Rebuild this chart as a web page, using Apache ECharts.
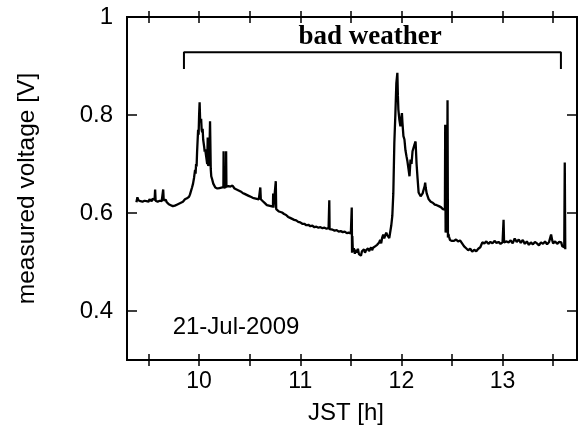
<!DOCTYPE html>
<html><head><meta charset="utf-8">
<script src="https://cdn.jsdelivr.net/npm/echarts@6/dist/echarts.min.js"></script>
<style>html,body{margin:0;padding:0;background:#fff}#c{width:578px;height:430px}</style>
</head><body><div id="c"></div>
<script>
// ---- data (hour JST, measured voltage V) ----
const morningTrace = [[9.38,0.622],[9.39,0.632],[9.40,0.626],[9.41,0.630],[9.42,0.624],[9.43,0.628],[9.44,0.623],[9.45,0.627],[9.46,0.625],[9.47,0.629],[9.48,0.624],[9.49,0.627],[9.50,0.623],[9.51,0.628],[9.52,0.626],[9.53,0.624],[9.54,0.629],[9.55,0.625],[9.56,0.627],[9.565,0.648],[9.57,0.625],[9.58,0.628],[9.59,0.623],[9.60,0.627],[9.61,0.625],[9.62,0.629],[9.63,0.624],[9.64,0.626],[9.645,0.648],[9.65,0.626],[9.66,0.624],[9.67,0.627],[9.68,0.622],[9.69,0.620],[9.70,0.618],[9.71,0.619],[9.72,0.616],[9.73,0.617],[9.74,0.614],[9.75,0.616],[9.76,0.615],[9.77,0.618],[9.78,0.617],[9.79,0.620],[9.80,0.619],[9.81,0.622],[9.82,0.621],[9.83,0.624],[9.84,0.623],[9.85,0.626],[9.86,0.628],[9.87,0.625],[9.88,0.630],[9.89,0.628],[9.90,0.633]];
const firstBurst = [[9.91,0.638],[9.92,0.645],[9.93,0.652],[9.94,0.660],[9.95,0.672],[9.96,0.688],[9.965,0.680],[9.97,0.700],[9.975,0.695],[9.98,0.725],[9.99,0.770],[9.995,0.760],[10.00,0.800],[10.005,0.826],[10.01,0.790],[10.015,0.785],[10.02,0.792],[10.025,0.770],[10.03,0.765],[10.035,0.772],[10.04,0.750],[10.05,0.735],[10.055,0.725],[10.06,0.730],[10.07,0.715],[10.08,0.700],[10.085,0.754],[10.09,0.696],[10.10,0.705],[10.108,0.787],[10.115,0.690],[10.12,0.675],[10.13,0.668],[10.14,0.660],[10.15,0.656],[10.16,0.652],[10.17,0.655],[10.18,0.650],[10.19,0.654],[10.20,0.651],[10.21,0.655],[10.22,0.652],[10.23,0.650],[10.24,0.653],[10.242,0.726],[10.245,0.652],[10.255,0.655],[10.265,0.653],[10.267,0.726],[10.27,0.654],[10.28,0.652]];
const slowDecline = [[10.29,0.655],[10.30,0.651],[10.31,0.654],[10.32,0.653],[10.33,0.656],[10.34,0.652],[10.35,0.650],[10.36,0.652],[10.37,0.648],[10.38,0.650],[10.39,0.646],[10.40,0.648],[10.41,0.644],[10.42,0.645],[10.43,0.641],[10.44,0.643],[10.45,0.639],[10.46,0.640],[10.47,0.637],[10.48,0.639],[10.49,0.635],[10.50,0.637],[10.51,0.633],[10.52,0.635],[10.53,0.631],[10.54,0.633],[10.55,0.630],[10.56,0.632],[10.57,0.629],[10.58,0.631],[10.59,0.628],[10.60,0.631],[10.605,0.652],[10.61,0.628],[10.62,0.626],[10.63,0.624],[10.64,0.622],[10.65,0.620],[10.66,0.618],[10.67,0.616],[10.68,0.614],[10.69,0.615],[10.70,0.612],[10.71,0.614],[10.72,0.611],[10.73,0.613],[10.732,0.640],[10.735,0.611],[10.74,0.610],[10.75,0.612],[10.758,0.665],[10.762,0.608],[10.77,0.606],[10.78,0.607],[10.79,0.603],[10.80,0.604],[10.82,0.601],[10.84,0.598],[10.86,0.596],[10.88,0.592],[10.90,0.590],[10.92,0.588],[10.94,0.586],[10.96,0.585],[10.98,0.582],[11.00,0.581],[11.02,0.578],[11.04,0.578],[11.06,0.575],[11.08,0.576],[11.10,0.573],[11.12,0.574],[11.14,0.571],[11.16,0.572],[11.18,0.570],[11.20,0.571],[11.22,0.569],[11.24,0.570],[11.26,0.568],[11.28,0.569],[11.287,0.626],[11.29,0.567],[11.30,0.568],[11.32,0.566],[11.34,0.564],[11.36,0.565],[11.38,0.562],[11.40,0.563],[11.42,0.561],[11.44,0.562],[11.46,0.559],[11.48,0.560],[11.50,0.558],[11.505,0.560]];
const secondBurst = [[11.509,0.611],[11.512,0.519],[11.515,0.553],[11.52,0.521],[11.53,0.528],[11.54,0.517],[11.55,0.525],[11.56,0.519],[11.57,0.527],[11.58,0.516],[11.59,0.520],[11.60,0.513],[11.61,0.522],[11.62,0.518],[11.63,0.526],[11.64,0.519],[11.65,0.524],[11.66,0.520],[11.67,0.528],[11.68,0.522],[11.69,0.525],[11.70,0.530],[11.71,0.524],[11.72,0.529],[11.73,0.526],[11.74,0.532],[11.75,0.528],[11.76,0.535],[11.77,0.532],[11.78,0.540],[11.79,0.545],[11.80,0.538],[11.81,0.550],[11.82,0.556],[11.83,0.548],[11.84,0.552],[11.85,0.560],[11.86,0.555],[11.87,0.551],[11.88,0.549],[11.89,0.553],[11.90,0.575],[11.91,0.594],[11.92,0.640],[11.93,0.743],[11.94,0.800],[11.95,0.865],[11.96,0.886],[11.965,0.840],[11.97,0.811],[11.98,0.790],[11.99,0.777],[12.00,0.795],[12.005,0.804],[12.01,0.785],[12.02,0.757],[12.03,0.750],[12.04,0.728],[12.05,0.716],[12.06,0.705],[12.07,0.690],[12.08,0.675],[12.09,0.709],[12.10,0.700],[12.11,0.726],[12.12,0.730],[12.13,0.740],[12.14,0.746],[12.15,0.700],[12.16,0.670],[12.17,0.642],[12.18,0.638],[12.19,0.634],[12.20,0.631],[12.21,0.640],[12.22,0.648],[12.23,0.655],[12.235,0.662],[12.24,0.652],[12.25,0.640],[12.26,0.634],[12.27,0.628],[12.28,0.626],[12.29,0.623],[12.30,0.620],[12.31,0.621],[12.32,0.618],[12.33,0.617],[12.34,0.615],[12.35,0.616],[12.36,0.613],[12.37,0.614],[12.38,0.611],[12.39,0.612],[12.40,0.609],[12.41,0.608],[12.42,0.610],[12.43,0.607],[12.433,0.780],[12.437,0.560],[12.445,0.600],[12.452,0.609],[12.456,0.830],[12.46,0.550],[12.465,0.557],[12.47,0.552],[12.48,0.545],[12.49,0.547],[12.50,0.543]];
const afternoonTrace = [[12.52,0.543],[12.54,0.546],[12.56,0.542],[12.58,0.544],[12.60,0.538],[12.62,0.532],[12.64,0.528],[12.66,0.524],[12.68,0.527],[12.70,0.521],[12.72,0.525],[12.74,0.522],[12.76,0.527],[12.78,0.530],[12.80,0.540],[12.82,0.538],[12.84,0.542],[12.86,0.537],[12.88,0.541],[12.90,0.538],[12.92,0.543],[12.94,0.539],[12.96,0.541],[12.98,0.537],[13.00,0.540],[13.01,0.586],[13.015,0.540],[13.02,0.537],[13.04,0.542],[13.06,0.540],[13.08,0.544],[13.10,0.538],[13.12,0.548],[13.14,0.541],[13.16,0.546],[13.18,0.539],[13.20,0.545],[13.22,0.537],[13.24,0.542],[13.26,0.535],[13.28,0.540],[13.30,0.536],[13.32,0.541],[13.34,0.538],[13.36,0.534],[13.38,0.540],[13.40,0.537],[13.42,0.542],[13.44,0.536],[13.46,0.541],[13.48,0.556],[13.49,0.545],[13.50,0.538],[13.52,0.542],[13.54,0.537],[13.56,0.541],[13.58,0.540],[13.59,0.532],[13.60,0.528],[13.61,0.530],[13.615,0.703],[13.62,0.526]];

const xMin = 9.287, xMax = 13.736;
const yMin = 0.3, yMax = 1.0;
const xTickValues = [9.5,10,10.5,11,11.5,12,12.5,13,13.5];
const xLabelValues = [10,11,12,13];
const yTickValues = [0.4,0.6,0.8,1.0];
const bracketHours = [9.85, 13.577];
const bracketLevels = [0.894, 0.928];
const bracketText = 'bad weather';
const dateText = '21-Jul-2009';

const trace = [].concat(morningTrace, firstBurst, slowDecline, secondBurst, afternoonTrace);
const bracket = [[bracketHours[0],bracketLevels[0]],[bracketHours[0],bracketLevels[1]],[bracketHours[1],bracketLevels[1]],[bracketHours[1],bracketLevels[0]]];

const SANS = '"Liberation Sans", Arial, sans-serif';
const black = '#000';
function xAx(pos, inside, labels, extra) {
  return Object.assign({
    type:'value', position:pos, min:xMin, max:xMax,
    axisLine:{show:true, lineStyle:{color:black, width:2}},
    axisTick:{show:true, inside:inside, length:6, customValues:xTickValues, lineStyle:{color:black,width:1.5}},
    axisLabel:{show:labels, customValues:xLabelValues, color:black, fontSize:23, fontFamily:SANS, margin:10},
    splitLine:{show:false}
  }, extra||{});
}
function yAx(pos, labels, extra) {
  return Object.assign({
    type:'value', position:pos, min:yMin, max:yMax,
    axisLine:{show:true, lineStyle:{color:black, width:2}},
    axisTick:{show:true, inside:true, length:10, customValues:yTickValues, lineStyle:{color:black,width:1.5}},
    axisLabel:{show:labels, customValues:yTickValues, color:black, fontSize:24, fontFamily:SANS, margin:14,
      formatter: v => (Math.abs(v-1)<1e-9 ? '1' : v.toFixed(1))},
    splitLine:{show:false}
  }, extra||{});
}

const chart = echarts.init(document.getElementById('c'), null, {renderer:'canvas'});
chart.setOption({
  animation:false,
  backgroundColor:'#fff',
  grid:{left:127, right:1, top:17, bottom:69, containLabel:false},
  xAxis:[
    xAx('bottom', false, true, {name:'JST [h]', nameLocation:'middle', nameGap:41,
      nameTextStyle:{color:black, fontSize:24, fontFamily:SANS, padding:[0,12,0,0]}}),
    xAx('bottom', true, false),
    xAx('top', true, false),
    xAx('top', false, false)
  ],
  yAxis:[
    yAx('left', true, {name:'measured voltage [V]', nameLocation:'middle', nameGap:87,
      nameTextStyle:{color:black, fontSize:24.5, fontFamily:SANS}}),
    yAx('right', false)
  ],
  series:[
    {type:'line', data:trace, xAxisIndex:0, yAxisIndex:0, showSymbol:false, symbol:'none',
      lineStyle:{color:black, width:2.3}, silent:true},
    {type:'line', data:bracket, xAxisIndex:0, yAxisIndex:0, showSymbol:false, symbol:'none',
      lineStyle:{color:black, width:2}, silent:true}
  ],
  graphic:[
    {type:'text', x:370, y:37, style:{text:bracketText, fill:black, font:'bold 27px "Liberation Serif", "Times New Roman", serif', align:'center', verticalAlign:'middle'}},
    {type:'text', x:236, y:327, style:{text:dateText, fill:black, font:'24px "Liberation Sans", Arial, sans-serif', align:'center', verticalAlign:'middle'}}
  ]
});
</script></body></html>
